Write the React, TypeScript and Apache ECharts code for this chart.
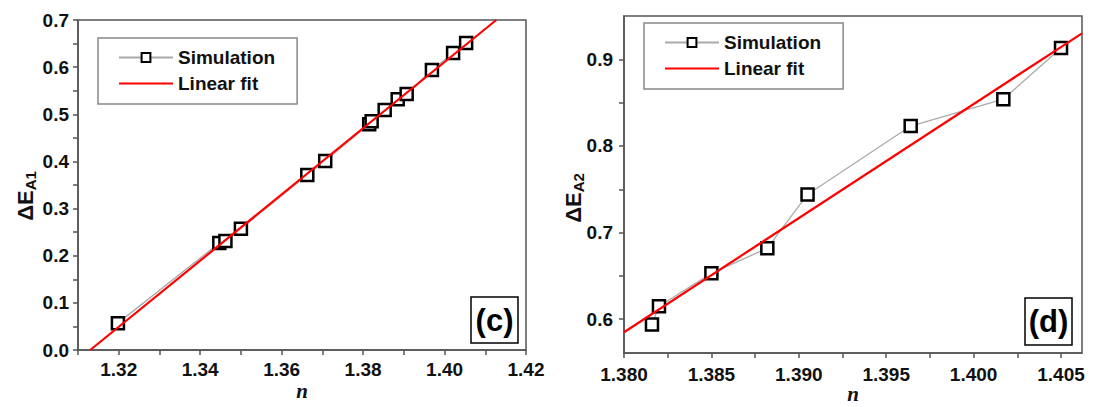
import React, { useEffect, useRef } from "react";
import * as echarts from "echarts";

// ---- Panel (c) data ----
const simC_n = [1.3198, 1.3447, 1.3462, 1.35, 1.3663, 1.3707, 1.3815, 1.3821, 1.3853, 1.3885, 1.3907, 1.3969, 1.4021, 1.4053];
const simC_E = [0.057, 0.227, 0.231, 0.257, 0.371, 0.401, 0.479, 0.485, 0.509, 0.532, 0.543, 0.594, 0.63, 0.651];
const fitC_n = [1.313, 1.4127];
const fitC_E = [0.0, 0.7];
const xLabelsC = [1.32, 1.34, 1.36, 1.38, 1.4, 1.42];
const xTicksC = [1.31, 1.32, 1.33, 1.34, 1.35, 1.36, 1.37, 1.38, 1.39, 1.4, 1.41, 1.42];
const yLabelsC = [0, 0.1, 0.2, 0.3, 0.4, 0.5, 0.6, 0.7];
const yTicksC = [0, 0.05, 0.1, 0.15, 0.2, 0.25, 0.3, 0.35, 0.4, 0.45, 0.5, 0.55, 0.6, 0.65, 0.7];

// ---- Panel (d) data ----
const simD_n = [1.3816, 1.382, 1.385, 1.3882, 1.3905, 1.3964, 1.4017, 1.405];
const simD_E = [0.594, 0.615, 0.653, 0.682, 0.744, 0.823, 0.854, 0.913];
const fitD_n = [1.38, 1.4062];
const fitD_E = [0.585, 0.93];
const xLabelsD = [1.38, 1.385, 1.39, 1.395, 1.4, 1.405];
const xTicksD = [1.38, 1.3825, 1.385, 1.3875, 1.39, 1.3925, 1.395, 1.3975, 1.4, 1.4025, 1.405];
const yLabelsD = [0.6, 0.7, 0.8, 0.9];
const yTicksD = [0.6, 0.65, 0.7, 0.75, 0.8, 0.85, 0.9];

const seriesNames = ["Simulation", "Linear fit"];
const xTitle = "n";

const axisColor = "#555";
const textColor = "#111";
const sans = "'Liberation Sans', Arial, sans-serif";

const zip = (a: number[], b: number[]) => a.map((v, i) => [v, b[i]]);

function xAxisCfg(grid: number, min: number, max: number, labels: number[], ticks: number[], dec: number, margin: number) {
  return {
    gridIndex: grid,
    type: "value",
    min,
    max,
    axisLine: { show: true, onZero: false, lineStyle: { color: axisColor, width: 1.5 } },
    axisTick: { show: true, inside: false, length: 5, customValues: ticks, lineStyle: { color: axisColor, width: 1.5 } },
    axisLabel: { customValues: labels, formatter: (v: number) => v.toFixed(dec), margin, fontSize: 19, fontWeight: "bold", fontFamily: sans, color: textColor },
    splitLine: { show: false },
  };
}

function yAxisCfg(grid: number, min: number, max: number, labels: number[], ticks: number[], margin: number) {
  return {
    gridIndex: grid,
    type: "value",
    min,
    max,
    axisLine: { show: true, onZero: false, lineStyle: { color: axisColor, width: 1.5 } },
    axisTick: { show: true, inside: false, length: 5, customValues: ticks, lineStyle: { color: axisColor, width: 1.5 } },
    axisLabel: { customValues: labels, formatter: (v: number) => v.toFixed(1), margin, fontSize: 19, fontWeight: "bold", fontFamily: sans, color: textColor },
    splitLine: { show: false },
  };
}

function simSeries(idx: number, n: number[], e: number[]) {
  return {
    name: seriesNames[0],
    type: "line",
    xAxisIndex: idx,
    yAxisIndex: idx,
    data: zip(n, e),
    symbol: "rect",
    symbolSize: 12,
    showAllSymbol: true,
    itemStyle: { color: "#fff", borderColor: "#000", borderWidth: 2.5 },
    lineStyle: { color: "#aaa", width: 1.3 },
    z: 2,
  };
}

function fitSeries(idx: number, n: number[], e: number[]) {
  return {
    name: seriesNames[1],
    type: "line",
    xAxisIndex: idx,
    yAxisIndex: idx,
    data: zip(n, e),
    symbol: "none",
    itemStyle: { color: "#f00" },
    lineStyle: { color: "#f00", width: 2.2 },
    clip: true,
    z: 3,
  };
}

function legendCfg(left: number, top: number) {
  return {
    show: true,
    data: [
      { name: seriesNames[0] },
      { name: seriesNames[1], itemStyle: { opacity: 0 } },
    ],
    orient: "vertical",
    left,
    top,
    itemWidth: 54,
    itemHeight: 11,
    itemGap: 7,
    padding: [10, 22, 11, 20],
    borderColor: "#888",
    borderWidth: 1.5,
    backgroundColor: "#fff",
    selectedMode: false,
    textStyle: { fontSize: 19, fontWeight: "bold", fontFamily: sans, color: textColor },
  };
}

function yTitle(x: number, y: number, sub: string) {
  return {
    type: "text",
    x,
    y,
    rotation: Math.PI / 2,
    style: {
      text: `{a|ΔE}{b|${sub}}`,
      align: "center",
      verticalAlign: "middle",
      rich: {
        a: { fontSize: 22, fontWeight: "bold", fontFamily: sans, fill: textColor, lineHeight: 26 },
        b: { fontSize: 15, fontWeight: "bold", fontFamily: sans, fill: textColor, verticalAlign: "bottom", lineHeight: 26 },
      },
    },
  };
}

function xName(x: number, y: number) {
  return {
    type: "text",
    x,
    y,
    style: {
      text: xTitle,
      align: "center",
      verticalAlign: "middle",
      fontSize: 21,
      fontStyle: "italic",
      fontWeight: "bold",
      fontFamily: "'Liberation Serif', 'Times New Roman', serif",
      fill: textColor,
    },
  };
}

function panelLabel(x: number, y: number, w: number, h: number, t: string) {
  return [
    { type: "rect", shape: { x, y, width: w, height: h }, style: { fill: "#fff", stroke: "#000", lineWidth: 1.5 }, z: 10 },
    {
      type: "text",
      x: x + w / 2,
      y: y + h / 2,
      style: { text: t, align: "center", verticalAlign: "middle", fontSize: 31, fontWeight: "bold", fontFamily: sans, fill: "#000" },
      z: 11,
    },
  ];
}

export default function App() {
  const ref = useRef<HTMLDivElement>(null);
  useEffect(() => {
    if (!ref.current) return;
    const chart = echarts.init(ref.current, undefined, { renderer: "svg" });
    const option: any = {
      animation: false,
      backgroundColor: "#fff",
      grid: [
        { left: 78, top: 20, width: 448, height: 330, show: true, borderColor: axisColor, borderWidth: 1.5, backgroundColor: "transparent", outerBoundsMode: "none", containLabel: false },
        { left: 624, top: 16, width: 458, height: 337, show: true, borderColor: axisColor, borderWidth: 1.5, backgroundColor: "transparent", outerBoundsMode: "none", containLabel: false },
      ],
      xAxis: [
        xAxisCfg(0, 1.31, 1.42, xLabelsC, xTicksC, 2, 10),
        xAxisCfg(1, 1.38, 1.4062, xLabelsD, xTicksD, 3, 12),
      ],
      yAxis: [
        yAxisCfg(0, 0, 0.7, yLabelsC, yTicksC, 9),
        yAxisCfg(1, 0.561, 0.95, yLabelsD, yTicksD, 11),
      ],
      legend: [legendCfg(98, 38), legendCfg(644, 23)],
      series: [
        simSeries(0, simC_n, simC_E),
        fitSeries(0, fitC_n, fitC_E),
        simSeries(1, simD_n, simD_E),
        fitSeries(1, fitD_n, fitD_E),
      ],
      graphic: [
        yTitle(25, 196, "A1"),
        yTitle(573, 198, "A2"),
        xName(302, 391),
        xName(853, 394),
        ...panelLabel(471, 297, 47, 46, "(c)"),
        ...panelLabel(1025, 298, 47, 47, "(d)"),
      ],
    };
    chart.setOption(option);
    return () => chart.dispose();
  }, []);
  return <div ref={ref} style={{ position: "fixed", left: 0, top: 0, width: 1094, height: 407 }} />;
}
